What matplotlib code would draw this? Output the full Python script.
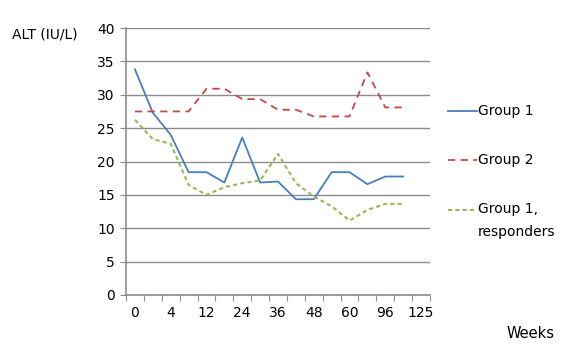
import matplotlib.pyplot as plt
from matplotlib.lines import Line2D
import numpy as np

# week categories (only every second one is labelled on the chart)
week_labels = ['0', '', '4', '', '12', '', '24', '', '36', '', '48', '', '60', '', '96', '', '125']

group1 = [33.8, 27.3, 24.0, 18.4, 18.4, 16.85, 23.6, 16.85, 17.0, 14.35, 14.35, 18.4,
          18.4, 16.6, 17.75, 17.75]
group2 = [27.5, 27.5, 27.5, 27.5, 30.9, 30.9, 29.35, 29.35, 27.75, 27.75, 26.75, 26.75,
          26.75, 33.35, 28.1, 28.1]
group1_resp = [26.25, 23.35, 22.65, 16.5, 15.0, 16.15, 16.75, 17.15, 21.15, 16.75, 14.75,
               13.3, 11.15, 12.75, 13.65, 13.65]

series_names = ['Group 1', 'Group 2', 'Group 1,\nresponders']
colors = ['#4a7ebb', '#be4b48', '#98b954']
styles = ['-', (0, (4, 3)), (0, (2, 1.5))]
widths = [1.3, 1.3, 1.5]

plt.rcParams['font.family'] = 'DejaVu Sans'
fs = 10
fig = plt.figure(figsize=(5.68, 3.6), dpi=100)
ax = fig.add_axes([126/568, 1-295/360, (430-126)/568, (295-28)/360])

x = np.arange(len(group1))
for ys, c, st, w in zip([group1, group2, group1_resp], colors, styles, widths):
    ax.plot(x, ys, color=c, lw=w, ls=st)

ax.set_xlim(-0.5, len(week_labels) - 0.5)
ax.set_ylim(0, 40)
ax.set_yticks(np.arange(0, 41, 5))
ax.grid(axis='y', color='#8c8c8c', lw=1)
ax.set_axisbelow(True)

# ticks on category boundaries, labels at category centres
ax.set_xticks(np.arange(-0.5, len(week_labels), 1))
ax.set_xticklabels([])
ax.set_xticks(np.arange(len(week_labels)), minor=True)
ax.set_xticklabels(week_labels, minor=True)
ax.tick_params(axis='x', which='minor', length=0, pad=8, labelsize=fs)
ax.tick_params(axis='x', which='major', length=4, color='#8c8c8c')
ax.tick_params(axis='y', length=4, color='#8c8c8c', labelsize=fs, pad=4)

for s in ['top', 'right']:
    ax.spines[s].set_visible(False)
for s in ['left', 'bottom']:
    ax.spines[s].set_color('#8c8c8c')
    ax.spines[s].set_linewidth(1.2)

fig.text(12/568, 1-34/360, 'ALT (IU/L)', fontsize=fs, va='center', ha='left')
fig.text(507/568, 1-334/360, 'Weeks', fontsize=fs + 0.5, va='center', ha='left')

# legend drawn by hand to match entry positions
legend_y = [111, 160, 210]
for name, c, st, w, ly in zip(series_names, colors, styles, widths, legend_y):
    fy = 1 - ly/360
    fig.add_artist(Line2D([448/568, 477/568], [fy, fy], color=c, ls=st, lw=w,
                          transform=fig.transFigure))
    if '\n' in name:
        fig.text(478/568, fy + 8/360, name, fontsize=fs, va='top', ha='left', linespacing=1.85)
    else:
        fig.text(478/568, fy, name, fontsize=fs, va='center', ha='left')

fig.savefig('out.png', dpi=100)
